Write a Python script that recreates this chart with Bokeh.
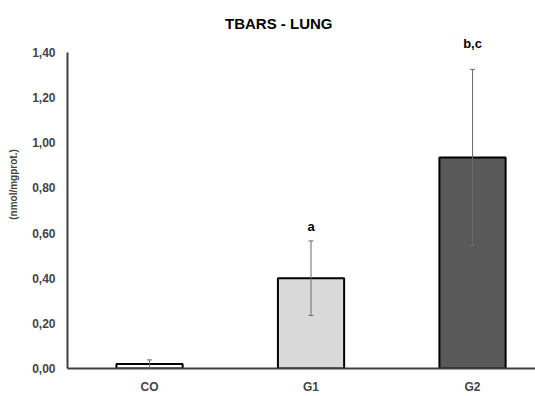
from bokeh.plotting import figure
from bokeh.models import ColumnDataSource, Whisker, Range1d, FixedTicker, Label
from bokeh.core.properties import value
from bokeh.embed import file_html
from bokeh.resources import INLINE

groups = ["CO", "G1", "G2"]
means = [0.02, 0.40, 0.935]
errors = [0.018, 0.165, 0.39]
bar_colors = ["#ffffff", "#d9d9d9", "#595959"]
sig_labels = ["", "a", "b,c"]
y_ticks = [0.0, 0.2, 0.4, 0.6, 0.8, 1.0, 1.2, 1.4]
y_tick_labels = ["0,00", "0,20", "0,40", "0,60", "0,80", "1,00", "1,20", "1,40"]

label_gap = [0.03, 0.03, 0.08]
xs = list(range(len(groups)))
src = ColumnDataSource(dict(
    x=xs, top=means, color=bar_colors,
    upper=[m + e for m, e in zip(means, errors)],
    lower=[m - e for m, e in zip(means, errors)],
    lab=sig_labels,
    lab_y=[m + e + g for m, e, g in zip(means, errors, label_gap)],
))

FONT = "Liberation Sans"

p = figure(width=535, height=396, output_backend="svg", toolbar_location=None,
           x_range=Range1d(-0.508, 2.39), y_range=Range1d(0, 1.63),
           min_border_left=67, min_border_right=0, min_border_top=0, min_border_bottom=28)
p.outline_line_color = None
p.grid.grid_line_color = None
p.background_fill_color = "white"
p.border_fill_color = "white"

p.vbar(x="x", top="top", width=0.41, bottom=0, source=src,
       fill_color="color", line_color="black", line_width=2)

w = Whisker(base="x", upper="upper", lower="lower", source=src,
            line_color="#6a6a6a", line_width=1, level="overlay")
w.upper_head.size = 5
w.lower_head.size = 5
w.upper_head.line_color = "#6a6a6a"
w.lower_head.line_color = "#6a6a6a"
p.add_layout(w)

p.text(x="x", y="lab_y", text="lab", source=src, text_align="center",
       text_baseline="bottom", text_font=value(FONT), text_font_size="13px",
       text_font_style="bold", text_color="black")

title = Label(x=0.80, y=1.529, text="TBARS - LUNG", text_align="center",
              text_baseline="middle", text_font=FONT, text_font_size="15px",
              text_font_style="bold", text_color="black")
p.add_layout(title)

# y axis
p.yaxis.ticker = FixedTicker(ticks=y_ticks)
p.yaxis.major_label_overrides = {t: l for t, l in zip(y_ticks, y_tick_labels)}
p.yaxis.bounds = (0, 1.4)
p.yaxis.axis_line_color = "#404040"
p.yaxis.axis_line_width = 2
p.yaxis.major_tick_line_color = None
p.yaxis.minor_tick_line_color = None
p.yaxis.major_tick_out = 0
p.yaxis.major_tick_in = 0
p.yaxis.minor_tick_out = 0
p.yaxis.minor_tick_in = 0
p.yaxis.major_label_text_font = FONT
p.yaxis.major_label_text_font_style = "bold"
p.yaxis.major_label_text_font_size = "12px"
p.yaxis.major_label_standoff = 12
p.yaxis.axis_label = "(nmol/mgprot.)"
p.yaxis.axis_label_text_font = FONT
p.yaxis.axis_label_text_font_style = "bold"
p.yaxis.axis_label_text_font_size = "10px"
p.yaxis.axis_label_standoff = 10

# x axis
p.xaxis.ticker = FixedTicker(ticks=xs)
p.xaxis.major_label_overrides = {i: g for i, g in zip(xs, groups)}
p.xaxis.axis_line_color = "#404040"
p.xaxis.axis_line_width = 2
p.xaxis.major_tick_line_color = None
p.xaxis.minor_tick_line_color = None
p.xaxis.major_tick_out = 0
p.xaxis.major_tick_in = 0
p.xaxis.minor_tick_out = 0
p.xaxis.minor_tick_in = 0
p.xaxis.major_label_text_font = FONT
p.xaxis.major_label_text_font_style = "bold"
p.xaxis.major_label_text_font_size = "12px"
p.xaxis.major_label_standoff = 11

open("out.html", "w").write(file_html(p, INLINE))
